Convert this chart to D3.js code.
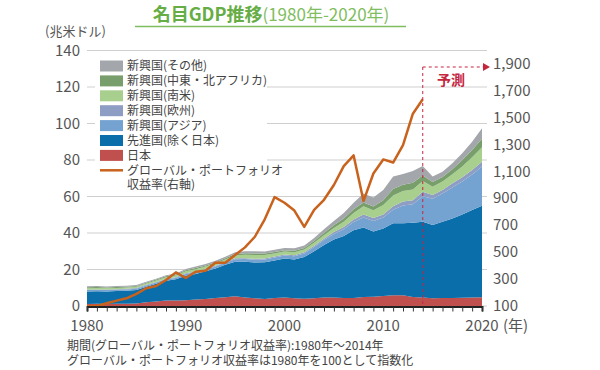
<!doctype html>
<html>
<head>
<meta charset="utf-8">
<title>名目GDP推移</title>
<style>
  html, body { margin: 0; padding: 0; background: #fff; }
  svg { display: block; font-family: "Noto Sans CJK JP", "Noto Sans", sans-serif; }
</style>
<script src="https://cdnjs.cloudflare.com/ajax/libs/d3/7.8.5/d3.min.js"></script>
</head>
<body>
<script>
// data (兆米ドル)
var years = d3.range(1980, 2021);
var japan =        [1.1,1.2,1.1,1.2,1.3,1.4,2.1,2.5,3.0,3.0, 3.1,3.5,3.8,4.4,4.8,5.3,4.7,4.3,3.9,4.4, 4.7,4.2,4.0,4.3,4.6,4.6,4.4,4.4,4.9,5.1, 5.5,5.9,5.9,5.0,4.6,4.2,4.4,4.4,4.5,4.6, 4.8];
var advanced =     [6.9,6.9,6.9,7.0,7.1,7.4,8.5,9.7,10.8,11.6, 13.5,14.1,15.2,16.1,17.8,19.0,19.5,19.5,20.1,20.6, 21.3,21.3,22.8,25.7,28.8,31.8,33.9,37.1,38.1,35.7, 37.0,39.4,39.4,40.6,41.6,40.2,41.8,43.6,45.7,48.0, 50.2];
var asia =         [0.7,0.7,0.7,0.7,0.7,0.7,0.7,0.7,0.8,0.8, 0.9,0.9,1.0,1.1,1.1,1.3,1.5,1.6,1.5,1.6, 1.7,1.8,2.0,2.3,2.7,3.1,3.8,4.5,5.5,5.8, 6.0,7.4,9.8,10.2,14.0,14.4,15.4,17.0,18.0,19.5, 21.4];
var europe =       [0.3,0.3,0.3,0.3,0.3,0.3,0.3,0.3,0.3,0.3, 0.4,0.4,0.4,0.4,0.4,0.5,0.5,0.5,0.5,0.5, 0.5,0.5,0.6,0.7,0.8,1.0,1.2,1.4,1.6,1.6, 1.6,1.9,2.1,2.2,2.4,2.0,2.0,2.2,2.3,2.4, 2.6];
var southAmerica = [0.8,0.8,0.8,0.7,0.7,0.7,0.7,0.8,0.9,1.0, 1.1,1.2,1.2,1.3,1.4,1.7,1.9,2.0,1.9,1.7, 1.6,1.6,1.5,1.6,1.9,2.3,2.9,3.5,4.5,4.3, 5.2,6.0,5.8,5.9,5.9,4.6,4.6,5.0,6.0,7.0, 8.0];
var mideast =      [0.5,0.5,0.4,0.5,0.5,0.5,0.5,0.5,0.5,0.5, 0.6,0.7,0.6,0.6,0.6,0.7,0.8,0.9,0.8,0.8, 0.8,0.9,0.9,1.0,1.2,1.4,1.8,2.1,2.1,2.0, 2.6,3.5,3.5,3.6,3.0,2.6,2.5,2.8,3.5,4.0, 4.6];
var others =       [0.5,0.5,0.5,0.5,0.5,0.5,0.5,0.5,0.5,0.6, 0.7,0.8,0.8,0.9,0.9,0.9,1.1,1.2,1.1,1.2, 1.2,1.3,1.4,1.6,2.0,2.4,3.0,3.6,4.9,5.0, 5.7,6.9,5.8,6.5,5.2,3.0,2.9,3.2,3.7,4.5, 5.8];

// グローバル・ポートフォリオ収益率 (1980=100), 1980-2014
var returnYears = d3.range(1980, 2015);
var returnIndex = [100,100,120,140,157,190,232,249,293,350, 308,355,362,422,422,479,536,615,745,910, 868,810,688,814,890,1000,1140,1220,880,1085, 1190,1167,1297,1530,1637];

var leftTicks = [0,20,40,60,80,100,120,140];
var rightTicks = [100,300,500,700,900,1100,1300,1500,1700,1900];
var xTicks = [1980,1990,2000,2010,2020];

var keys = ["japan","advanced","asia","europe","southAmerica","mideast","others"];
var names = {
  japan: "日本", advanced: "先進国(除く日本)", asia: "新興国(アジア)", europe: "新興国(欧州)",
  southAmerica: "新興国(南米)", mideast: "新興国(中東・北アフリカ)", others: "新興国(その他)"
};
var colors = {
  japan: "#c0504d", advanced: "#0a6eaa", asia: "#75a3d1", europe: "#8e9dc3",
  southAmerica: "#a8cf8e", mideast: "#789e6c", others: "#a3a6aa"
};
var series = { japan: japan, advanced: advanced, asia: asia, europe: europe,
  southAmerica: southAmerica, mideast: mideast, others: others };

var rows = years.map(function (y, i) {
  var r = { year: y };
  keys.forEach(function (k) { r[k] = series[k][i]; });
  return r;
});

var width = 600, height = 370;
var svg = d3.select("body").append("svg").attr("width", width).attr("height", height);

var x = d3.scaleLinear().domain([1980, 2020]).range([87, 482]);
var y = d3.scaleLinear().domain([0, 140]).range([306, 50.5]);
var y2 = d3.scaleLinear().domain([100, 2000]).range([306, 50.5]);

// title
var title = svg.append("text").attr("x", 271).attr("y", 21).attr("text-anchor", "middle");
title.append("tspan").text("名目GDP推移").attr("font-weight", "bold").attr("font-size", "18px").attr("fill", "#66ad45");
title.append("tspan").text("(1980年-2020年)").attr("font-size", "17px").attr("fill", "#80bd5e");
svg.append("line").attr("x1", 135).attr("x2", 406).attr("y1", 26.5).attr("y2", 26.5)
  .attr("stroke", "#80bd5e").attr("stroke-width", 1.5);

svg.append("text").attr("x", 45).attr("y", 36).attr("font-size", "13px").attr("fill", "#555").text("(兆米ドル)");

// grid
svg.append("g").selectAll("line").data(leftTicks).enter().append("line")
  .attr("x1", 87).attr("x2", 487)
  .attr("y1", function (d) { return y(d); }).attr("y2", function (d) { return y(d); })
  .attr("stroke", "#cfcfcf").attr("stroke-width", 1);

svg.append("g").selectAll("text").data(leftTicks).enter().append("text")
  .attr("x", 80).attr("y", function (d) { return y(d) + 5; })
  .attr("text-anchor", "end").attr("font-size", "15px").attr("fill", "#555")
  .text(function (d) { return d; });

svg.append("g").selectAll("text").data(rightTicks).enter().append("text")
  .attr("x", 493).attr("y", function (d) { return y2(d) + 5; })
  .attr("font-size", "15px").attr("fill", "#555")
  .text(function (d) { return d3.format(",")(d); });

// stacked areas
var stacked = d3.stack().keys(keys)(rows);
var area = d3.area()
  .x(function (d) { return x(d.data.year); })
  .y0(function (d) { return y(d[0]); })
  .y1(function (d) { return y(d[1]); });

svg.append("g").selectAll("path").data(stacked).enter().append("path")
  .attr("d", area)
  .attr("fill", function (d) { return colors[d.key]; });

// return line
var line = d3.line()
  .x(function (d, i) { return x(returnYears[i]); })
  .y(function (d) { return y2(d); });
svg.append("path").datum(returnIndex).attr("d", line)
  .attr("fill", "none").attr("stroke", "#c8621d").attr("stroke-width", 2.5)
  .attr("stroke-linejoin", "round");

// x axis
var xAxis = d3.axisBottom(x).tickValues(years).tickSize(5).tickFormat("");
var gx = svg.append("g").attr("transform", "translate(0,306.5)").call(xAxis);
gx.select(".domain").attr("stroke", "#222").attr("stroke-width", 2);
gx.selectAll(".tick line").attr("stroke", "#333");

svg.append("g").selectAll("text").data(xTicks).enter().append("text")
  .attr("x", function (d) { return x(d); }).attr("y", 331)
  .attr("text-anchor", "middle").attr("font-size", "15px").attr("fill", "#555")
  .text(function (d) { return d; });
svg.append("text").attr("x", x(2020) + 21).attr("y", 331).attr("font-size", "15px").attr("fill", "#555").text("(年)");

// forecast marker
var fx = x(2014);
var red = "#c4263f";
svg.append("line").attr("x1", fx).attr("x2", fx).attr("y1", 67).attr("y2", 306)
  .attr("stroke", red).attr("stroke-width", 1).attr("stroke-dasharray", "3,3");
svg.append("line").attr("x1", fx).attr("x2", 483).attr("y1", 67).attr("y2", 67)
  .attr("stroke", red).attr("stroke-width", 1).attr("stroke-dasharray", "3,3");
svg.append("path").attr("d", "M483,63 L490,67 L483,71 Z").attr("fill", red);
svg.append("text").attr("x", 451).attr("y", 85).attr("text-anchor", "middle")
  .attr("font-size", "14px").attr("font-weight", "bold").attr("fill", red).text("予測");

// legend
var legendKeys = keys.slice().reverse();
var lg = svg.append("g");
lg.append("rect").attr("x", 95).attr("y", 57).attr("width", 172).attr("height", 136).attr("fill", "#fff");
legendKeys.forEach(function (k, i) {
  var cy = 66 + i * 14.9;
  lg.append("rect").attr("x", 100).attr("y", cy - 5.5).attr("width", 23).attr("height", 11).attr("fill", colors[k]);
  lg.append("text").attr("x", 127).attr("y", cy + 4.3).attr("font-size", "12px").attr("fill", "#444").text(names[k]);
});
var ly = 66 + 7 * 14.9;
lg.append("line").attr("x1", 100).attr("x2", 123).attr("y1", ly).attr("y2", ly)
  .attr("stroke", "#c8621d").attr("stroke-width", 2.5);
lg.append("text").attr("x", 127).attr("y", ly + 4.3).attr("font-size", "12px").attr("fill", "#444").text("グローバル・ポートフォリオ");
lg.append("text").attr("x", 127).attr("y", ly + 18.3).attr("font-size", "12px").attr("fill", "#444").text("収益率(右軸)");

// notes
svg.append("text").attr("x", 67).attr("y", 350).attr("font-size", "12px").attr("fill", "#444")
  .text("期間(グローバル・ポートフォリオ収益率):1980年～2014年");
svg.append("text").attr("x", 67).attr("y", 365).attr("font-size", "12px").attr("fill", "#444")
  .text("グローバル・ポートフォリオ収益率は1980年を100として指数化");
</script>
</body>
</html>
